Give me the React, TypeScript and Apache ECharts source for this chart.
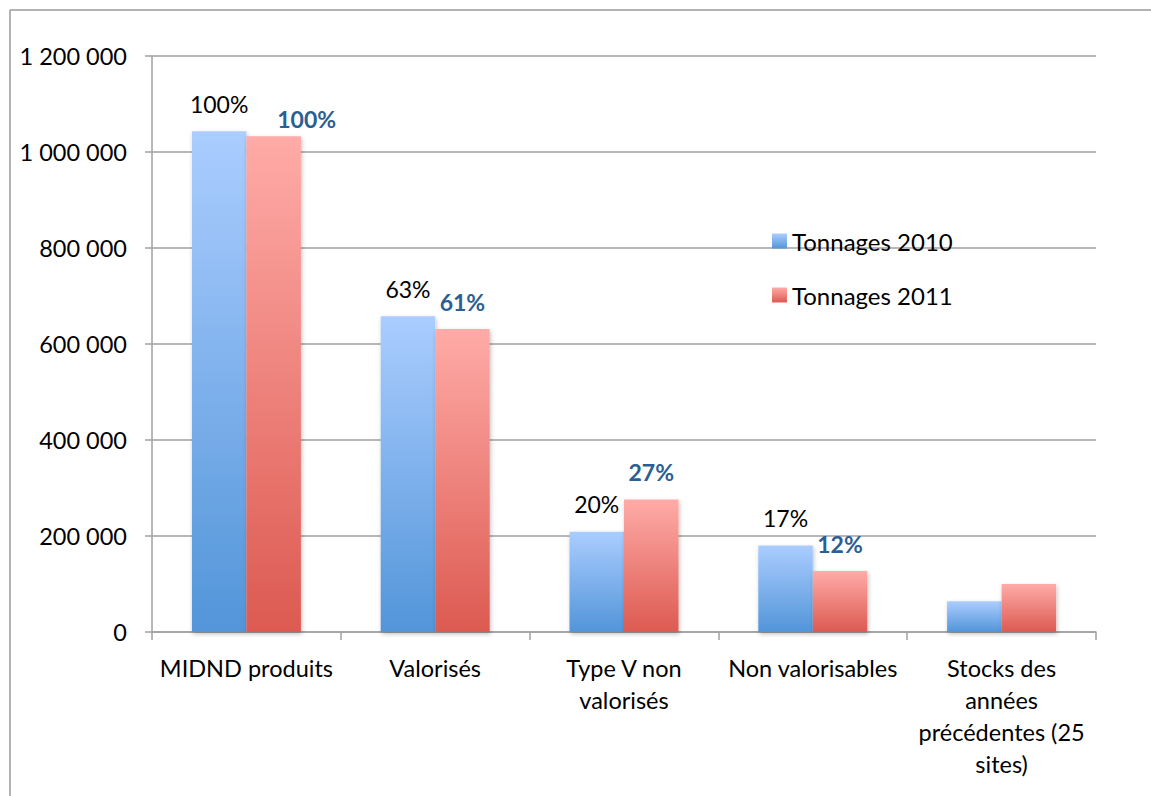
import React, { useEffect, useRef } from "react";
import * as echarts from "echarts";

const categories = [
  "MIDND produits",
  "Valorisés",
  "Type V non\nvalorisés",
  "Non valorisables",
  "Stocks des\nannées\nprécédentes (25\nsites)",
];
const tonnages2010 = [1043000, 658000, 209000, 180000, 64000];
const tonnages2011 = [1033000, 631000, 276000, 127000, 100000];
// categories whose share of the produced total is written above the bars
const labelledCount = 4;
const yTicks = [0, 200000, 400000, 600000, 800000, 1000000, 1200000];

const FONT = "Lato, 'Open Sans', sans-serif";

const fmtThousands = (v: number) =>
  String(v).replace(/\B(?=(\d{3})+(?!\d))/g, " ");

const blueGrad = () =>
  new echarts.graphic.LinearGradient(0, 0, 0, 1, [
    { offset: 0, color: "#abcdff" },
    { offset: 1, color: "#5295d9" },
  ]);
const redGrad = () =>
  new echarts.graphic.LinearGradient(0, 0, 0, 1, [
    { offset: 0, color: "#ffaba7" },
    { offset: 1, color: "#dc5a51" },
  ]);

const shareData = (values: number[], labelOpts: (i: number) => any) =>
  values.map((v, i) => ({
    value: v,
    label:
      i < labelledCount
        ? { show: true, formatter: Math.round((v / values[0]) * 100) + "%", ...labelOpts(i) }
        : { show: false },
  }));

export default function App() {
  const ref = useRef<HTMLDivElement>(null);

  useEffect(() => {
    if (!ref.current) return;
    const chart = echarts.init(ref.current, null, { renderer: "svg" });
    const shadow = {
      shadowBlur: 4,
      shadowOffsetX: 1,
      shadowOffsetY: 2,
      shadowColor: "rgba(0,0,0,0.25)",
    };
    chart.setOption({
      animation: false,
      backgroundColor: "#ffffff",
      textStyle: { fontFamily: FONT },
      graphic: [
        {
          type: "line",
          shape: { x1: 10, y1: 10, x2: 1151, y2: 10 },
          style: { stroke: "#9a9a9a", lineWidth: 1.5 },
        },
        {
          type: "line",
          shape: { x1: 10, y1: 10, x2: 10, y2: 796 },
          style: { stroke: "#9a9a9a", lineWidth: 1.5 },
        },
      ],
      grid: { left: 152, top: 56, right: 55, bottom: 164, containLabel: false },
      legend: {
        orient: "vertical",
        left: 772,
        top: 229,
        padding: 0,
        itemWidth: 15,
        itemHeight: 15,
        itemGap: 30,
        icon: "rect",
        textStyle: { fontSize: 24, color: "#000", fontFamily: FONT, lineHeight: 24 },
        data: ["Tonnages 2010", "Tonnages 2011"],
      },
      xAxis: {
        type: "category",
        data: categories,
        axisLine: { show: true, lineStyle: { color: "#a0a0a0", width: 1.5 } },
        axisTick: { show: true, length: 8, alignWithLabel: false, lineStyle: { color: "#a0a0a0", width: 1.5 } },
        axisLabel: {
          interval: 0,
          margin: 20,
          fontSize: 23.5,
          lineHeight: 32,
          color: "#000",
          fontFamily: FONT,
          align: "center",
        },
      },
      yAxis: {
        type: "value",
        min: yTicks[0],
        max: yTicks[yTicks.length - 1],
        interval: yTicks[1] - yTicks[0],
        axisLine: { show: true, lineStyle: { color: "#a0a0a0", width: 1.5 } },
        axisTick: { show: true, length: 7, lineStyle: { color: "#a0a0a0", width: 1.5 } },
        splitLine: { show: true, lineStyle: { color: "#a0a0a0", width: 1.5 } },
        axisLabel: {
          margin: 25,
          fontSize: 23.5,
          color: "#000",
          fontFamily: FONT,
          formatter: (v: number) => fmtThousands(v),
        },
      },
      series: [
        {
          name: "Tonnages 2010",
          type: "bar",
          barWidth: 54.5,
          barGap: "0%",
          itemStyle: { color: blueGrad(), ...shadow },
          label: {
            position: "top",
            distance: 16,
            fontSize: 23,
            color: "#000",
            fontFamily: FONT,
          },
          data: shareData(tonnages2010, () => ({})),
        },
        {
          name: "Tonnages 2011",
          type: "bar",
          barWidth: 54.5,
          barGap: "0%",
          itemStyle: { color: redGrad(), ...shadow },
          label: {
            position: "top",
            distance: 16,
            fontSize: 23,
            fontWeight: "bold",
            color: "#2b5e93",
            fontFamily: FONT,
          },
          data: shareData(tonnages2011, (i) => (i === 0 ? { offset: [33, 10] } : {})),
        },
      ],
    });
    return () => chart.dispose();
  }, []);

  return (
    <div
      ref={ref}
      style={{ position: "fixed", left: 0, top: 0, width: 1151, height: 796, background: "#fff" }}
    />
  );
}
